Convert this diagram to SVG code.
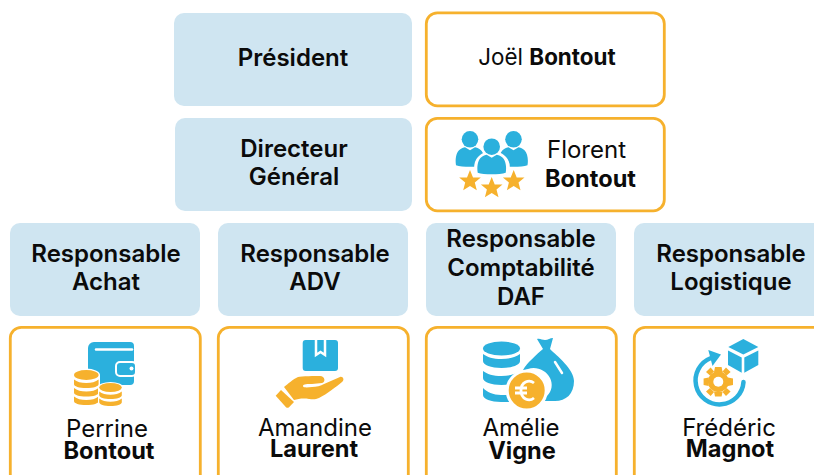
<svg xmlns="http://www.w3.org/2000/svg" xmlns:xlink="http://www.w3.org/1999/xlink" width="814" height="475" viewBox="0 0 814 475">
<style>
text{font-family:Inter,"Noto Sans","Liberation Sans",sans-serif;fill:#0b0b0b;text-anchor:middle}
.t{font-size:24px;font-weight:600}
.n{font-size:24px;font-weight:400}
.nb{font-size:23.600px;font-weight:700}
.j{font-size:22.400px}
.b{font-weight:700}
.role{fill:#cfe5f1}
.card{fill:#fff;stroke:#f6b12d;stroke-width:2.800}
.bl{fill:#2bb0dd}
.or{fill:#f6b12d}
</style>
<defs>
<polygon id="star" class="or" points="0,-11 3,-3.600 10.800,-3.400 4.800,1.600 6.800,9.200 0,5 -6.800,9.200 -4.800,1.600 -10.800,-3.400 -3,-3.600"/>
<g id="person"><circle cx="0" cy="0" r="8.300"/><path d="M-14,26c-1,-6 0,-12 3,-15c2,-2 5,-3 6,-3l5,3l5,-3c1,0 4,1 6,3c3,3 4,9 3,15c-6,2 -22,2 -28,0z"/></g>
<path id="band1" d="M-12.300,0c3,2.500 7,3.500 12.300,3.500s9.300,-1 12.300,-3.500v4.500c0,2.500 -5,4 -12.300,4s-12.300,-1.500 -12.300,-4z"/>
<path id="band2" d="M-11.300,0c3,2.200 6.500,3.200 11.300,3.200s8.300,-1 11.300,-3.200v3.800c0,2.300 -5,3.700 -11.300,3.700s-11.300,-1.400 -11.300,-3.700z"/>
</defs>
<g id="president"><rect class="role" x="174" y="13" width="238" height="93" rx="10"/><text class="t" x="293" y="66">Président</text></g>
<g id="joel"><rect class="card" x="426.300" y="12.800" width="238" height="93" rx="11"/><text class="n j" x="547" y="65">Joël <tspan class="b">Bontout</tspan></text></g>
<g id="dg"><rect class="role" x="175" y="118" width="237" height="93" rx="10"/><text class="t" x="294" y="157">Directeur</text><text class="t" x="294" y="185">Général</text></g>
<g id="florent"><rect class="card" x="426.300" y="118.300" width="238" height="92.500" rx="11"/>
<use xlink:href="#person" href="#person" class="bl" x="470" y="139.300"/>
<use xlink:href="#person" href="#person" class="bl" x="513.500" y="139.300"/>
<circle cx="491.700" cy="146.700" r="10.500" fill="#fff"/><path d="M476,174c-1,-7 0,-13 3,-16c2,-2 5,-4 7,-4h12c2,0 5,2 7,4c3,3 4,9 3,16z" fill="#fff" stroke="#fff" stroke-width="3"/>
<use xlink:href="#person" href="#person" class="bl" x="491.700" y="146.700"/>
<use xlink:href="#star" href="#star" x="470" y="181"/>
<use xlink:href="#star" href="#star" x="491.700" y="188"/>
<use xlink:href="#star" href="#star" x="513.700" y="181"/>
<text class="n" x="586.500" y="158">Florent</text><text class="nb" x="590.500" y="187">Bontout</text></g>
<g id="r-achat"><rect class="role" x="10" y="223" width="190" height="93" rx="10"/><text class="t" x="106" y="262">Responsable</text><text class="t" x="106" y="290">Achat</text></g>
<g id="r-adv"><rect class="role" x="218" y="223" width="190" height="93" rx="10"/><text class="t" x="315" y="262">Responsable</text><text class="t" x="315" y="290">ADV</text></g>
<g id="r-daf"><rect class="role" x="426" y="223" width="190" height="93" rx="10"/><text class="t" x="521" y="247">Responsable</text><text class="t" x="521" y="276">Comptabilité</text><text class="t" x="521" y="305">DAF</text></g>
<g id="r-log"><rect class="role" x="634" y="223" width="190" height="93" rx="10"/><text class="t" x="731" y="262">Responsable</text><text class="t" x="731" y="290">Logistique</text></g>
<g id="perrine"><rect class="card" x="10.300" y="327.300" width="190" height="160" rx="11"/>
<path class="bl" d="M94,342h36a4,4 0 0 1 4,4v35a4,4 0 0 1 -4,4h-36a6,6 0 0 1 -6,-6v-31a6,6 0 0 1 6,-6z"/>
<path d="M96,349.500h36" fill="none" stroke="#fff" stroke-width="2.500" stroke-linecap="round"/>
<rect x="116" y="362" width="20" height="14" rx="4" class="bl" stroke="#fff" stroke-width="2"/><circle cx="131.500" cy="368.500" r="2" fill="#fff"/>
<path d="M70,372h32v36h22v-25h-54z" fill="#fff" opacity="0"/>
<ellipse cx="86" cy="375" rx="14" ry="6.500" fill="#fff"/><rect x="72" y="375" width="28" height="32" fill="#fff"/>
<g class="or"><ellipse cx="86.300" cy="375" rx="12.300" ry="5"/>
<use xlink:href="#band1" href="#band1" x="86.300" y="379.500"/><use xlink:href="#band1" href="#band1" x="86.300" y="388"/><use xlink:href="#band1" href="#band1" x="86.300" y="396.500"/></g>
<ellipse cx="110.500" cy="387.500" rx="12.500" ry="5.500" fill="#fff"/><rect x="98" y="387" width="25" height="19" fill="#fff"/>
<g class="or"><ellipse cx="110.500" cy="387.500" rx="11.300" ry="4.500"/>
<use xlink:href="#band2" href="#band2" x="110.500" y="391.500"/><use xlink:href="#band2" href="#band2" x="110.500" y="398.500"/></g>
<text class="n" x="107" y="437">Perrine</text><text class="nb" x="109" y="459">Bontout</text></g>
<g id="amandine"><rect class="card" x="218.300" y="327.300" width="190" height="160" rx="11"/>
<rect class="bl" x="302.700" y="340" width="35.300" height="31" rx="3"/>
<path d="M316,340v15l4.500,-3l4.500,3v-15" fill="none" stroke="#fff" stroke-width="2.500"/>
<path class="or" d="M284,387c4,-3 9,-8 14,-10c3,-1 18,-1 22,-1c5,0 6,6 2,7l-10,1c-4,0 -9,0 -9,2c0,2 5,1.500 9,1c4,0 9,-1 12,-3l16,-7c3,-1 5,3 2,5c-5,4 -15,12 -23,16c-4,2 -8,1 -10,1c-6,-1 -11,0 -15,1z"/>
<path class="or" d="M275.700,395.700l5.300,-5.700l13,12l-5,5.300c-1,.7 -2,.7 -3,0z"/>
<text class="n" x="315" y="436">Amandine</text><text class="nb" x="314" y="457">Laurent</text></g>
<g id="amelie"><rect class="card" x="426.300" y="327.300" width="190" height="160" rx="11"/>
<g class="bl"><ellipse cx="501.500" cy="348.500" rx="18.500" ry="7"/><path d="M483,354v7c0,4 8,7 18.500,7s18.500,-3 18.500,-7v-7c-4,3 -10,5 -18.500,5s-14.500,-2 -18.500,-5z"/><path d="M483,371v7c0,4 8,7 18.500,7s18.500,-3 18.500,-7v-7c-4,3 -10,5 -18.500,5s-14.500,-2 -18.500,-5z"/><path d="M483,388v7c0,4 8,7 18,7h8l6,-8c-4,1 -8,1 -14,1c-8,0 -14,-3 -18,-7z"/>
<path d="M537,339c3,-1 5,1 8,1s5,-2 8,-2l-3,11c7,7 24,20 24,32c0,13 -8,20 -19,20h-14l6,-5c5,-5 6,-12 3,-18c-4,-8 -14,-12 -22,-9c-2,1 -4,1 -5,1c4,-7 13,-15 20,-21z"/></g>
<path d="M555,362l7,11" stroke="#fff" stroke-width="2.500" stroke-linecap="round"/>
<circle cx="526.700" cy="390.500" r="19.500" fill="#f6b12d" stroke="#fff" stroke-width="3"/>
<path d="M534,383c-5,-4 -13,-1 -13,7.500s8,11.500 13,7.500M515,388h12M515,393h12" fill="none" stroke="#fff" stroke-width="2.800"/>
<text class="n" x="521" y="436">Amélie</text><text class="nb" x="522" y="459">Vigne</text></g>
<g id="frederic"><rect class="card" x="634.300" y="327.300" width="190" height="160" rx="11"/>
<path d="M743.500,382A24,24 0 1 1 711,358" fill="none" stroke="#2bb0dd" stroke-width="4.500" stroke-linecap="round"/>
<path class="bl" d="M708.300,350L721,354.500L712.500,366z"/>
<path class="bl" d="M743.300,339l15,8l-15,7.500l-15,-7.500z"/><path class="bl" d="M728,350.500l13.700,7v15.200l-13.700,-7.700z"/><path class="bl" d="M758.300,350.500l-14,7v15.200l14,-7.700z"/>
<g class="or"><circle cx="718.300" cy="381.700" r="10.500"/><path d="M715,367h6.600l1,5h-8.600zM715,396.400h6.600l1,-5h-8.600zM703.600,378.400v6.600l5,1v-8.600zM733,378.400v6.600l-5,1v-8.600zM706,372l4.600,-4.600l3.500,4l-4.100,4.100zM730.600,372l-4.600,-4.600l-3.500,4l4.100,4.100zM706,391.400l4.600,4.600l3.500,-4l-4.100,-4.100zM730.600,391.400l-4.600,4.600l-3.500,-4l4.100,-4.100z"/></g>
<circle cx="718.300" cy="381.700" r="5" fill="#fff"/>
<text class="n" x="729" y="436">Frédéric</text><text class="nb" x="730" y="457">Magnot</text></g>
</svg>
